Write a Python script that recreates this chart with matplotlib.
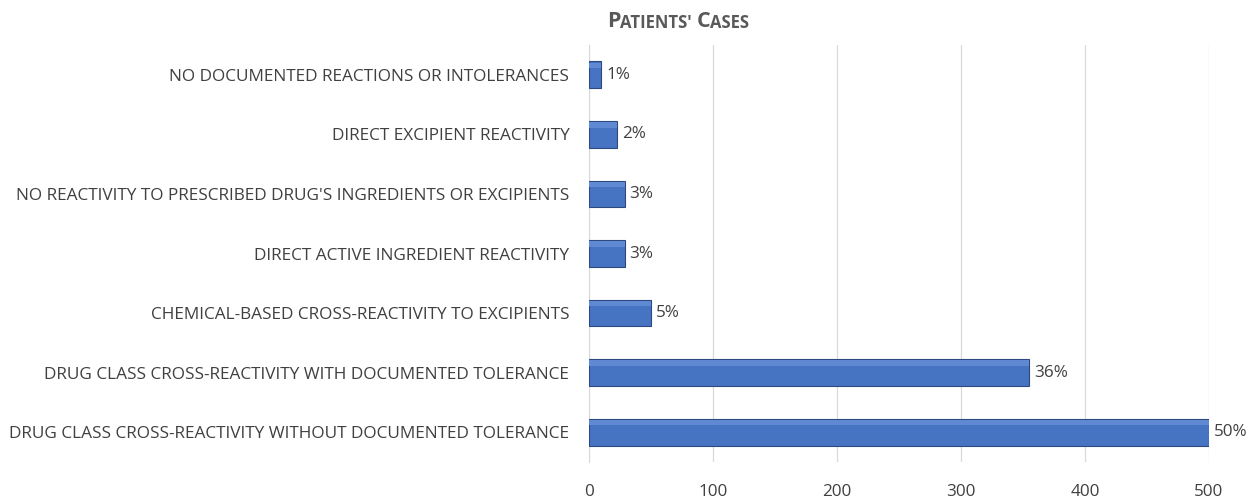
import matplotlib
matplotlib.use("Agg")
import matplotlib.pyplot as plt

categories = [
    "DRUG CLASS CROSS-REACTIVITY WITHOUT DOCUMENTED TOLERANCE",
    "DRUG CLASS CROSS-REACTIVITY WITH DOCUMENTED TOLERANCE",
    "CHEMICAL-BASED CROSS-REACTIVITY TO EXCIPIENTS",
    "DIRECT ACTIVE INGREDIENT REACTIVITY",
    "NO REACTIVITY TO PRESCRIBED DRUG'S INGREDIENTS OR EXCIPIENTS",
    "DIRECT EXCIPIENT REACTIVITY",
    "NO DOCUMENTED REACTIONS OR INTOLERANCES",
]
values = [500, 355, 50, 29, 29, 23, 10]
pct_labels = ["50%", "36%", "5%", "3%", "3%", "2%", "1%"]
xticks = [0, 100, 200, 300, 400, 500]

plt.rcParams['font.family'] = ['Open Sans', 'DejaVu Sans']
txtcol = '#404040'

fig = plt.figure(figsize=(12.58, 5.0), dpi=100)
ax = fig.add_axes([0.468, 0.076, 0.493, 0.834])

ypos = list(range(len(categories)))
ax.barh(ypos, values, height=0.45, color='#4673c2', edgecolor='#2c4a80', linewidth=0.8, zorder=3)
# subtle lighter strip near the top of each bar (bevel look)
ax.barh([y + 0.16 for y in ypos], values, height=0.09, color='#5f8ad3', linewidth=0, zorder=4)

for y, v, lab in zip(ypos, values, pct_labels):
    ax.text(v + 4, y, lab, va='center', ha='left', fontsize=12.3, color=txtcol)

ax.set_xlim(0, 500)
ax.set_ylim(-0.5, 6.5)
ax.set_xticks(xticks)
ax.set_xticklabels([str(t) for t in xticks], fontsize=12.3, color=txtcol)
ax.set_yticks(ypos)
ax.set_yticklabels(categories, fontsize=12.4, color=txtcol)
ax.tick_params(axis='both', length=0)
ax.tick_params(axis='x', pad=16)
ax.tick_params(axis='y', pad=14)
ax.xaxis.grid(True, color='#d9d9d9', linewidth=0.9, zorder=0)
for s in ['top', 'right', 'bottom']:
    ax.spines[s].set_visible(False)
ax.spines['left'].set_color('#d9d9d9')

# small-caps title
tc = '#595959'
t1 = fig.text(0.4825, 0.946, "P", fontsize=15.5, fontweight='bold', color=tc, ha='left', va='baseline')
t2 = ax.annotate("ATIENTS' ", xy=(1, 0), xycoords=t1, fontsize=12, fontweight='bold', color=tc, ha='left', va='bottom')
t3 = ax.annotate("C", xy=(1, 0), xycoords=t2, fontsize=15.5, fontweight='bold', color=tc, ha='left', va='bottom')
t4 = ax.annotate("ASES", xy=(1, 0), xycoords=t3, fontsize=12, fontweight='bold', color=tc, ha='left', va='bottom')

fig.savefig("out.png", dpi=100)
